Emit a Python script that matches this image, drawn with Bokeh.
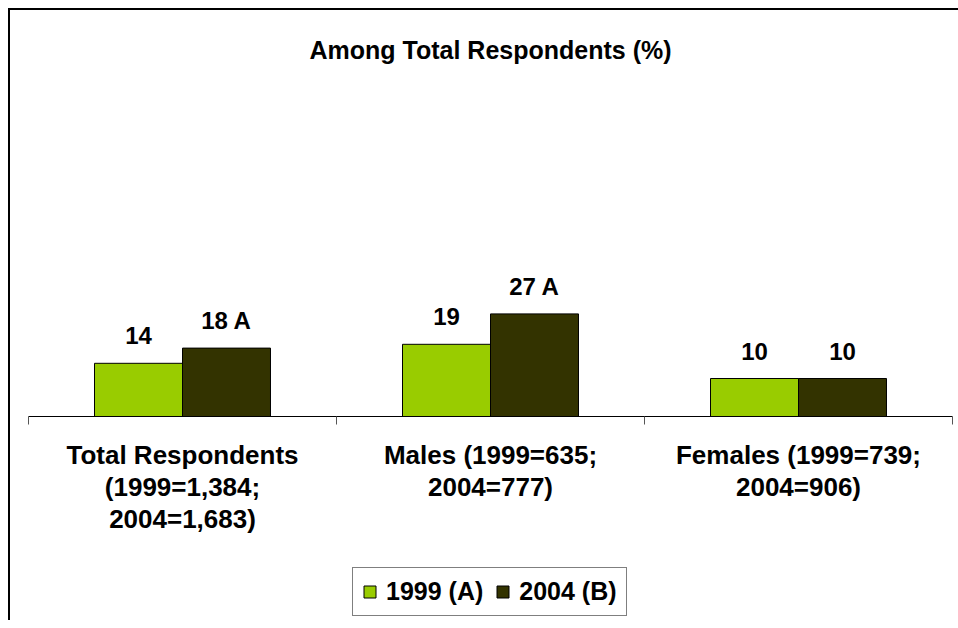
import numpy as np
from bokeh.plotting import figure
from bokeh.layouts import column
from bokeh.models import (ColumnDataSource, FixedTicker, LabelSet, Legend,
                          LegendItem, Range1d)
from bokeh.core.properties import value
from bokeh.transform import dodge
from bokeh.embed import file_html
from bokeh.resources import INLINE

# ---------------- data ----------------
title_text = "Among Total Respondents (%)"
categories = [
    "Total Respondents\n(1999=1,384;\n2004=1,683)",
    "Males (1999=635;\n2004=777)",
    "Females (1999=739;\n2004=906)",
]
series_names = ["1999 (A)", "2004 (B)"]
values_1999 = [14, 19, 10]
values_2004 = [18, 27, 10]
sig_2004 = ["A", "A", ""]

# ---------------- styles ----------------
FONT = "Liberation Sans"
GREEN = "#99CC00"
DARK = "#333300"
BAR_W = 0.2857

xs = list(np.arange(len(categories)) + 0.5)
boundaries = list(np.arange(len(categories) + 1).astype(float))

src = ColumnDataSource(dict(
    x=xs,
    v1999=values_1999,
    v2004=values_2004,
    t1999=[str(v) for v in values_1999],
    t2004=[(f"{v} {s}").strip() for v, s in zip(values_2004, sig_2004)],
))

p = figure(width=948, height=540,
           x_range=Range1d(0, len(categories)), y_range=Range1d(0, 90),
           output_backend="svg", toolbar_location=None,
           y_axis_location=None,
           min_border_left=18, min_border_right=6,
           min_border_top=64, min_border_bottom=134)

p.outline_line_color = None
p.grid.visible = False
p.background_fill_color = "white"
p.border_fill_color = "white"

bar_style = dict(width=BAR_W, line_color="black", line_width=1)
r1 = p.vbar(x=dodge("x", -BAR_W / 2), top="v1999", source=src,
            fill_color=GREEN, **bar_style)
r2 = p.vbar(x=dodge("x", BAR_W / 2), top="v2004", source=src,
            fill_color=DARK, **bar_style)

for col, txt, off in (("v1999", "t1999", -BAR_W / 2), ("v2004", "t2004", BAR_W / 2)):
    p.add_layout(LabelSet(x=dodge("x", off), y=col, text=txt, source=src,
                          text_align="center", text_baseline="alphabetic",
                          y_offset=19, text_font=value(FONT),
                          text_font_style="bold",
                          text_font_size="24px", text_color="black"))

ax = p.xaxis[0]
ax.ticker = FixedTicker(ticks=xs, minor_ticks=boundaries)
ax.major_label_overrides = {float(x): c for x, c in zip(xs, categories)}
ax.major_tick_out = 0
ax.major_tick_in = 0
ax.minor_tick_out = 8
ax.minor_tick_in = 0
ax.minor_tick_line_color = "#555555"
ax.axis_line_color = "black"
ax.axis_line_width = 1
ax.major_label_text_font = FONT
ax.major_label_text_font_style = "bold"
ax.major_label_text_font_size = "26px"
ax.major_label_text_color = "black"
ax.major_label_text_line_height = 1.07
ax.major_label_standoff = 15

p.title.text = title_text
p.title.align = "center"
p.title.text_font = FONT
p.title.text_font_size = "25px"
p.title.text_font_style = "bold"
p.title.text_color = "black"
p.title.standoff = 21

# ---------------- legend strip ----------------
leg_fig = figure(width=948, height=70, x_range=Range1d(0, 1), y_range=Range1d(0, 1),
                 output_backend="svg", toolbar_location=None,
                 x_axis_location=None, y_axis_location=None,
                 min_border_left=0, min_border_right=0,
                 min_border_top=0, min_border_bottom=0)
leg_fig.outline_line_color = None
leg_fig.grid.visible = False
leg_fig.background_fill_color = "white"
leg_fig.border_fill_color = "white"

# legend keys share the chart's data; they are hidden in this strip
k1 = leg_fig.vbar(x="x", top="v1999", source=src, fill_color=GREEN,
                  visible=False, **bar_style)
k2 = leg_fig.vbar(x="x", top="v2004", source=src, fill_color=DARK,
                  visible=False, **bar_style)

legend = Legend(items=[LegendItem(label=series_names[0], renderers=[k1]),
                       LegendItem(label=series_names[1], renderers=[k2])],
                orientation="horizontal", location=(324, 4),
                label_text_font=FONT, label_text_font_style="bold",
                label_text_font_size="25px", label_text_color="black",
                glyph_width=15, glyph_height=15, label_standoff=9, spacing=12,
                padding=9, margin=0, inactive_fill_alpha=0,
                border_line_color="black", border_line_width=1,
                background_fill_color="white")
leg_fig.add_layout(legend)

layout = column(p, leg_fig, spacing=0,
                styles={"margin-left": "8px", "margin-top": "8px",
                        "border-left": "2px solid #000",
                        "border-top": "2px solid #000"})

open("out.html", "w").write(file_html(layout, INLINE))
